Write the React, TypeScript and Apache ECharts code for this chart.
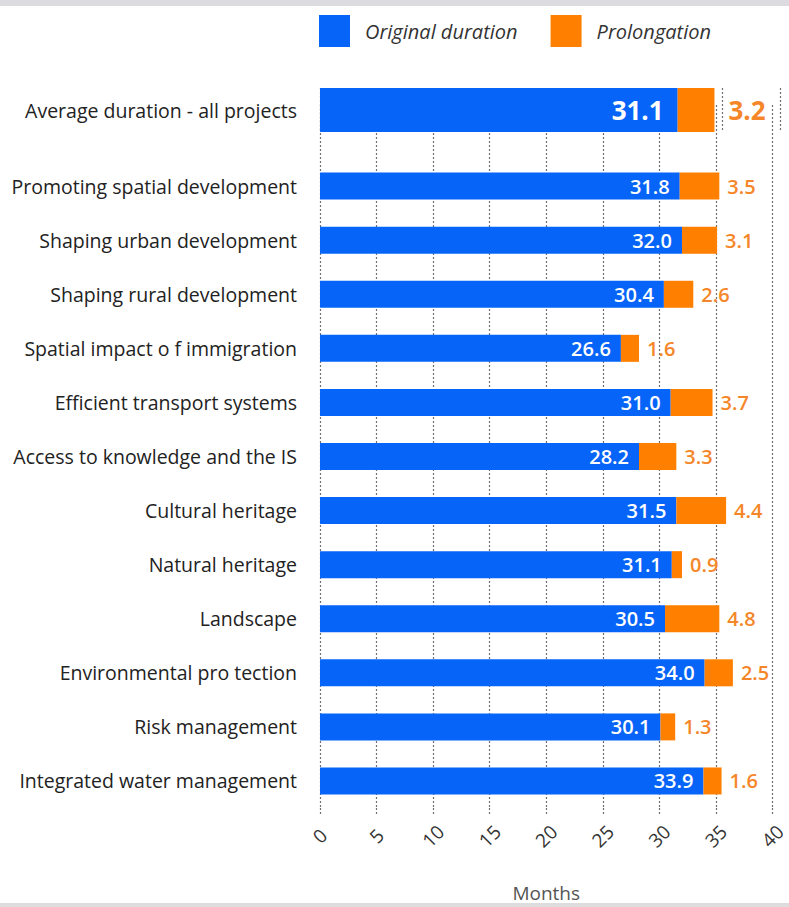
import React, { useEffect, useRef } from "react";
import * as echarts from "echarts";

const avgCategory = ["Average duration - all projects"];
const avgOriginal = [31.1];
const avgProlongation = [3.2];

const categories = [
  "",
  "Promoting spatial development",
  "Shaping urban development",
  "Shaping rural development",
  "Spatial impact o f immigration",
  "Efficient transport systems",
  "Access to knowledge and the IS",
  "Cultural heritage",
  "Natural heritage",
  "Landscape",
  "Environmental pro tection",
  "Risk management",
  "Integrated water management",
];
const originalDuration: (number | string)[] = ["-", 31.8, 32.0, 30.4, 26.6, 31.0, 28.2, 31.5, 31.1, 30.5, 34.0, 30.1, 33.9];
const prolongation: (number | string)[] = ["-", 3.5, 3.1, 2.6, 1.6, 3.7, 3.3, 4.4, 0.9, 4.8, 2.5, 1.3, 1.6];
const xTicks = [0, 5, 10, 15, 20, 25, 30, 35, 40];

const BLUE = "#0764f8";
const ORANGE = "#ff8000";
const LABEL_ORANGE = "#f5872a";
const FONT = "'Open Sans', sans-serif";

export default function App() {
  const ref = useRef<HTMLDivElement>(null);
  useEffect(() => {
    document.body.style.margin = "0";
    const chart = echarts.init(ref.current!, undefined, { renderer: "svg" });
    const splitLine = { show: true, lineStyle: { color: "#707070", type: [2, 2] as any, width: 1.2 } };
    const fmt = (p: any) => Number(p.value).toFixed(1);
    chart.setOption({
      animation: false,
      textStyle: { fontFamily: FONT },
      graphic: [
        { type: "rect", shape: { x: 0, y: 0, width: 789, height: 6 }, style: { fill: "#dcdce0" } },
        { type: "rect", shape: { x: 0, y: 903, width: 789, height: 4 }, style: { fill: "#dddddd" } },
      ],
      legend: {
        left: 319,
        top: 15,
        padding: 0,
        itemWidth: 31,
        itemHeight: 32,
        itemGap: 33,
        icon: "rect",
        data: ["Original duration", "Prolongation"],
        textStyle: { fontSize: 20, fontStyle: "italic", color: "#333", fontFamily: FONT, padding: [0, 0, 0, 10] },
      },
      grid: [
        { left: 320, width: 460, top: 88, height: 44 },
        { left: 320, width: 460, top: 105, height: 712 },
      ],
      xAxis: [
        {
          gridIndex: 0, type: "value", min: 0, max: 40, interval: 5,
          axisLabel: { show: false }, axisLine: { show: false }, axisTick: { show: false },
          splitLine,
        },
        {
          gridIndex: 1, type: "value", min: 0, max: 40, interval: 5,
          axisLine: { show: false },
          axisTick: { show: true, length: 7, lineStyle: { color: "#707070", type: [2, 2] as any, width: 1.2 } },
          splitLine,
          axisLabel: {
            rotate: 45, align: "center", verticalAlign: "middle", margin: 28,
            fontSize: 19, color: "#333", fontFamily: FONT,
            customValues: xTicks,
          },
          name: "Months", nameLocation: "middle", nameGap: 75,
          nameTextStyle: { fontSize: 19, color: "#555", fontFamily: FONT },
        },
      ],
      yAxis: [
        {
          gridIndex: 0, type: "category", data: avgCategory, inverse: true,
          axisLine: { show: false }, axisTick: { show: false },
          axisLabel: { fontSize: 19.5, color: "#222", margin: 23, fontFamily: FONT },
        },
        {
          gridIndex: 1, type: "category", data: categories, inverse: true,
          axisLine: { show: false }, axisTick: { show: false },
          axisLabel: { fontSize: 19.5, color: "#222", margin: 23, fontFamily: FONT },
        },
      ],
      series: [
        {
          name: "Original duration", type: "bar", stack: "a", xAxisIndex: 0, yAxisIndex: 0,
          data: avgOriginal, barWidth: 44, itemStyle: { color: BLUE },
          label: { show: true, position: "insideRight", distance: 14, color: "#fff", fontSize: 26, fontWeight: "bold", formatter: fmt, fontFamily: FONT },
        },
        {
          name: "Prolongation", type: "bar", stack: "a", xAxisIndex: 0, yAxisIndex: 0,
          data: avgProlongation, barWidth: 44, itemStyle: { color: ORANGE },
          label: { show: true, position: "right", distance: 14, color: LABEL_ORANGE, fontSize: 26, fontWeight: "bold", formatter: fmt, fontFamily: FONT },
        },
        {
          name: "Original duration", type: "bar", stack: "b", xAxisIndex: 1, yAxisIndex: 1,
          data: originalDuration, barWidth: 27, itemStyle: { color: BLUE },
          label: { show: true, position: "insideRight", distance: 10, color: "#fff", fontSize: 20, fontWeight: 600, formatter: fmt, fontFamily: FONT },
        },
        {
          name: "Prolongation", type: "bar", stack: "b", xAxisIndex: 1, yAxisIndex: 1,
          data: prolongation, barWidth: 27, itemStyle: { color: ORANGE },
          label: { show: true, position: "right", distance: 8, color: LABEL_ORANGE, fontSize: 20, fontWeight: 600, formatter: fmt, fontFamily: FONT },
        },
      ],
    });
    return () => chart.dispose();
  }, []);
  return <div ref={ref} style={{ width: 789, height: 907 }} />;
}
